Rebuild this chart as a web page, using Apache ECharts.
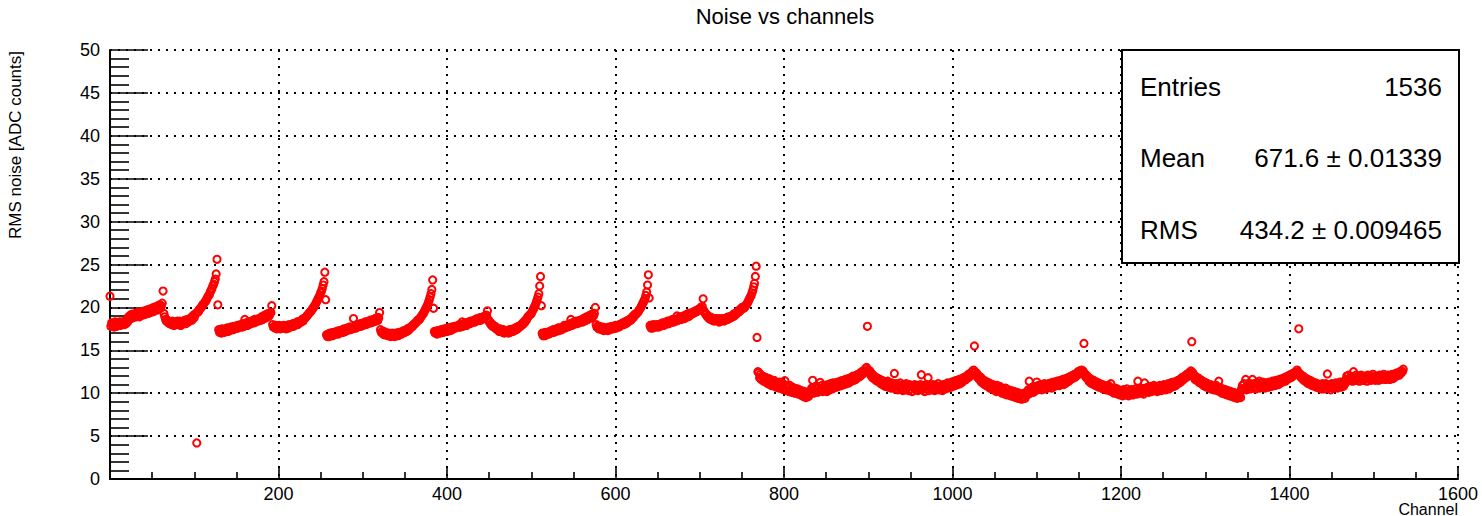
<!DOCTYPE html>
<html>
<head>
<meta charset="utf-8">
<title>Noise vs channels</title>
<script src="https://cdn.jsdelivr.net/npm/echarts@6/dist/echarts.min.js"></script>
<style>
  html, body { margin: 0; padding: 0; background: #fff; }
  #chart { width: 1482px; height: 516px; }
</style>
</head>
<body>
<div id="chart"></div>
<script>
// RMS noise per channel [ADC counts], one array per 128-channel block
const noise_0000_0127 = [
  21.3, 17.8, 18.2, 17.9, 18.1, 17.7, 18.3, 18.0, 17.8, 18.2, 18.0, 18.3, 17.9, 18.1, 18.3, 18.0,
  18.3, 18.0, 18.4, 18.1, 18.5, 18.3, 18.9, 18.7, 19.1, 18.7, 19.2, 18.8, 19.1, 18.9, 19.3, 18.9,
  19.4, 19.0, 19.3, 18.9, 19.4, 19.1, 19.5, 19.1, 19.4, 19.6, 19.2, 19.5, 19.7, 19.3, 19.6, 19.8,
  19.4, 19.7, 19.9, 19.5, 20.0, 19.6, 19.9, 20.1, 19.7, 20.2, 19.8, 20.3, 19.9, 20.2, 20.5, 21.9,
  19.3, 18.9, 18.6, 18.4, 18.5, 18.2, 18.4, 18.1, 18.3, 18.0, 18.4, 18.1, 17.9, 18.3, 18.0, 18.2,
  18.4, 18.0, 18.2, 18.4, 17.9, 18.3, 18.1, 18.4, 18.2, 18.5, 18.1, 18.4, 18.6, 18.3, 18.6, 18.5,
  18.8, 18.5, 18.9, 19.1, 18.8, 19.2, 19.3, 4.2, 19.5, 19.5, 19.8, 19.8, 20.0, 20.1, 20.3, 20.4,
  20.5, 20.7, 20.8, 21.0, 21.2, 21.4, 21.5, 21.8, 22.0, 22.2, 22.5, 22.7, 23.0, 23.3, 23.9, 25.6
];
const noise_0128_0255 = [
  20.3, 17.4, 17.1, 17.3, 17.0, 17.5, 17.2, 17.4, 17.1, 17.5, 17.3, 17.6, 17.2, 17.5, 17.3, 17.7,
  17.4, 17.7, 17.4, 17.8, 17.5, 17.7, 17.6, 17.9, 17.6, 17.9, 17.7, 18.0, 17.8, 17.7, 18.1, 17.8,
  18.6, 17.9, 18.2, 17.9, 18.3, 18.0, 18.3, 18.1, 18.4, 18.2, 18.5, 18.2, 18.6, 18.3, 18.6, 18.5,
  18.4, 18.7, 18.6, 18.5, 18.9, 18.6, 19.0, 18.7, 19.1, 18.8, 19.2, 18.9, 19.3, 19.0, 19.3, 19.4,
  20.2, 18.0, 17.7, 17.8, 17.6, 17.9, 17.5, 17.8, 17.6, 17.9, 17.5, 17.8, 17.6, 17.7, 17.9, 17.6,
  17.8, 17.5, 17.9, 17.7, 17.6, 18.0, 17.7, 17.9, 17.8, 18.1, 17.8, 18.1, 18.0, 18.1, 18.3, 18.0,
  18.3, 18.2, 18.4, 18.3, 18.6, 18.4, 18.7, 18.7, 18.8, 18.9, 19.1, 19.1, 19.3, 19.4, 19.5, 19.6,
  19.8, 19.9, 20.1, 20.2, 20.4, 20.6, 20.8, 21.0, 21.2, 21.4, 21.7, 21.9, 22.2, 22.6, 23.0, 24.1
];
const noise_0256_0383 = [
  20.9, 16.8, 16.6, 16.9, 16.6, 17.0, 16.7, 17.0, 16.7, 17.1, 16.8, 17.1, 16.9, 17.2, 17.0, 16.9,
  17.3, 17.0, 17.3, 17.1, 17.4, 17.1, 17.5, 17.2, 17.5, 17.3, 17.6, 17.4, 17.7, 17.4, 17.7, 17.6,
  17.5, 18.7, 17.6, 17.9, 17.6, 17.9, 17.7, 18.0, 17.8, 18.1, 17.8, 18.1, 17.9, 18.2, 18.0, 18.3,
  18.0, 18.3, 18.1, 18.4, 18.2, 18.5, 18.2, 18.5, 18.3, 18.6, 18.4, 18.7, 18.4, 18.8, 18.5, 18.8,
  19.4, 17.4, 17.1, 17.2, 16.9, 17.2, 16.8, 17.1, 16.8, 16.9, 16.7, 17.0, 16.8, 16.6, 16.9, 17.0,
  16.7, 16.9, 16.6, 17.0, 16.8, 16.9, 16.7, 17.1, 16.8, 17.1, 16.9, 17.2, 17.0, 17.3, 17.1, 17.3,
  17.2, 17.5, 17.3, 17.6, 17.5, 17.7, 17.7, 17.9, 17.9, 18.1, 18.1, 18.2, 18.3, 18.5, 18.5, 18.6,
  18.7, 18.9, 19.0, 19.2, 19.3, 19.5, 19.7, 19.9, 20.1, 20.3, 20.6, 20.9, 21.2, 21.6, 22.1, 23.2
];
const noise_0384_0511 = [
  19.9, 17.2, 17.0, 17.2, 16.9, 17.3, 17.0, 17.3, 17.0, 17.4, 17.1, 17.4, 17.1, 17.5, 17.2, 17.5,
  17.2, 17.6, 17.3, 17.6, 17.3, 17.7, 17.4, 17.7, 17.6, 17.8, 17.6, 17.8, 17.7, 17.9, 17.7, 18.0,
  17.7, 18.0, 18.3, 17.8, 18.1, 17.9, 18.2, 17.9, 18.2, 18.1, 18.3, 18.1, 18.4, 18.2, 18.4, 18.3,
  18.5, 18.3, 18.6, 18.4, 18.7, 18.5, 18.6, 18.8, 18.5, 18.8, 18.7, 18.9, 18.7, 19.0, 18.9, 19.1,
  19.6, 18.6, 18.3, 18.3, 18.0, 18.1, 17.8, 17.9, 17.7, 17.8, 17.5, 17.6, 17.4, 17.5, 17.2, 17.5,
  17.2, 17.3, 17.1, 17.4, 17.0, 17.3, 17.2, 17.1, 17.3, 17.0, 17.4, 17.1, 17.4, 17.3, 17.2, 17.5,
  17.3, 17.6, 17.4, 17.7, 17.5, 17.8, 17.7, 17.9, 17.9, 18.1, 18.0, 18.3, 18.2, 18.5, 18.5, 18.7,
  18.9, 19.0, 19.1, 19.2, 19.3, 19.5, 19.7, 19.9, 20.1, 20.3, 20.6, 20.9, 21.2, 21.6, 22.5, 23.6
];
const noise_0512_0639 = [
  20.2, 17.0, 16.7, 17.0, 16.7, 17.1, 16.8, 17.1, 17.0, 16.9, 17.2, 17.0, 17.3, 17.1, 17.4, 17.1,
  17.4, 17.2, 17.5, 17.3, 17.6, 17.3, 17.6, 17.5, 17.4, 17.7, 17.6, 17.9, 17.6, 17.9, 17.8, 17.7,
  18.0, 17.8, 18.1, 18.6, 17.9, 18.2, 18.0, 18.3, 18.1, 18.4, 18.1, 18.4, 18.3, 18.2, 18.5, 18.4,
  18.5, 18.3, 18.7, 18.4, 18.8, 18.5, 18.9, 18.6, 19.0, 18.7, 19.1, 18.8, 19.2, 19.1, 19.0, 19.3,
  20.0, 18.0, 17.7, 17.8, 17.5, 17.8, 17.5, 17.6, 17.4, 17.7, 17.3, 17.6, 17.5, 17.4, 17.6, 17.3,
  17.7, 17.4, 17.7, 17.5, 17.8, 17.5, 17.8, 17.6, 17.9, 17.6, 17.9, 17.8, 17.7, 18.0, 17.9, 18.1,
  18.0, 18.2, 18.0, 18.3, 18.1, 18.4, 18.2, 18.5, 18.4, 18.6, 18.5, 18.8, 18.7, 19.0, 18.9, 19.2,
  19.2, 19.3, 19.4, 19.5, 19.7, 19.8, 20.0, 20.2, 20.4, 20.6, 20.8, 21.0, 21.4, 21.8, 22.6, 23.8
];
const noise_0640_0767 = [
  21.1, 17.9, 17.6, 17.9, 17.6, 18.0, 17.7, 17.9, 17.7, 18.0, 17.8, 17.7, 18.0, 17.8, 18.1, 17.9,
  18.2, 17.9, 18.2, 18.0, 18.3, 18.1, 18.4, 18.1, 18.4, 18.2, 18.5, 18.3, 18.6, 18.3, 18.6, 18.5,
  18.4, 19.0, 18.5, 18.8, 18.6, 18.9, 18.6, 18.9, 18.8, 19.0, 18.7, 19.1, 18.9, 19.2, 18.9, 19.3,
  19.0, 19.3, 19.2, 19.4, 19.3, 19.5, 19.4, 19.6, 19.5, 19.7, 19.6, 19.8, 19.7, 20.0, 19.8, 20.1,
  21.0, 19.6, 19.4, 19.2, 19.2, 18.9, 19.0, 18.7, 18.9, 18.6, 18.8, 18.5, 18.7, 18.4, 18.7, 18.5,
  18.7, 18.4, 18.6, 18.3, 18.7, 18.4, 18.6, 18.5, 18.7, 18.4, 18.7, 18.6, 18.8, 18.6, 18.9, 18.7,
  18.9, 18.8, 19.0, 18.9, 19.2, 19.0, 19.3, 19.2, 19.4, 19.4, 19.6, 19.5, 19.8, 19.7, 20.0, 19.9,
  19.9, 20.0, 20.1, 20.3, 20.4, 20.6, 20.8, 21.0, 21.2, 21.4, 21.7, 22.0, 22.4, 22.8, 23.6, 24.8
];
const noise_0768_0895 = [
  16.5, 12.5, 12.4, 11.8, 12.2, 11.6, 12.0, 11.9, 11.4, 11.9, 11.3, 11.8, 11.5, 11.1, 11.7, 11.2,
  11.6, 10.9, 11.4, 11.0, 11.5, 10.8, 11.3, 10.7, 11.2, 11.0, 10.6, 11.3, 10.7, 10.9, 10.5, 11.1,
  10.4, 11.45, 10.9, 10.3, 10.8, 10.6, 10.2, 10.9, 10.4, 10.1, 10.7, 10.3, 10.6, 10.0, 10.5, 10.2,
  10.5, 9.9, 10.4, 10.1, 9.8, 10.3, 10.0, 9.6, 10.2, 9.8, 9.5, 10.1, 9.7, 9.6, 10.0, 10.3,
  10.1, 10.6, 11.5, 10.0, 10.7, 10.2, 10.5, 10.8, 10.1, 10.6, 10.3, 11.25, 10.4, 10.9, 10.2, 10.7,
  10.3, 10.9, 10.5, 10.2, 11.0, 10.6, 10.4, 11.1, 10.7, 10.5, 11.2, 10.6, 10.9, 11.2, 10.7, 11.0,
  11.3, 10.8, 11.1, 11.4, 10.9, 11.2, 11.5, 11.0, 11.3, 11.6, 11.1, 11.4, 11.7, 11.2, 11.5, 11.8,
  11.4, 11.7, 12.0, 11.5, 11.9, 11.6, 12.1, 11.8, 12.2, 11.9, 12.3, 12.0, 12.5, 12.2, 12.6, 12.4
];
const noise_0896_1023 = [
  12.6, 12.9, 13.0, 17.8, 12.7, 12.4, 12.6, 12.1, 12.3, 11.8, 12.1, 11.7, 11.9, 11.5, 11.8, 11.4,
  11.7, 11.3, 11.6, 11.1, 11.5, 11.0, 11.4, 11.2, 10.8, 11.3, 10.9, 11.4, 10.7, 11.2, 10.9, 10.6,
  11.2, 10.7, 11.0, 12.3, 10.5, 11.1, 10.8, 10.4, 11.0, 10.6, 11.2, 10.5, 10.9, 10.3, 11.0, 10.7,
  10.4, 11.1, 10.6, 10.8, 10.3, 11.0, 10.5, 10.9, 10.2, 10.8, 10.6, 11.0, 10.4, 10.7, 10.9, 10.3,
  10.8, 10.5, 11.0, 12.15, 10.4, 10.9, 10.6, 10.2, 10.8, 11.0, 10.5, 11.8, 10.3, 10.9, 10.6, 10.8,
  10.4, 11.0, 10.6, 10.3, 10.9, 10.7, 10.5, 11.1, 10.4, 10.8, 10.6, 10.9, 10.3, 11.0, 10.7, 10.5,
  11.0, 10.7, 11.2, 10.6, 10.9, 11.1, 10.7, 11.3, 10.8, 11.0, 11.4, 10.9, 11.2, 11.5, 11.0, 11.3,
  11.6, 11.1, 11.4, 11.7, 11.3, 11.8, 11.5, 11.9, 11.6, 12.0, 11.8, 12.2, 11.9, 12.3, 12.1, 12.5
];
const noise_1024_1151 = [
  12.4, 12.7, 15.5, 12.5, 12.1, 12.3, 11.8, 12.0, 11.6, 11.9, 11.3, 11.7, 11.2, 11.5, 11.0, 11.4,
  10.9, 11.3, 10.8, 11.2, 10.6, 11.1, 10.9, 10.5, 11.0, 10.4, 10.8, 10.6, 10.2, 10.9, 10.5, 10.3,
  10.8, 10.2, 10.6, 10.0, 10.5, 10.3, 9.9, 10.6, 10.1, 9.8, 10.4, 10.0, 10.2, 9.7, 10.3, 9.9,
  9.6, 10.2, 9.8, 9.5, 10.1, 9.7, 9.4, 10.0, 9.6, 9.9, 9.3, 9.8, 9.5, 10.0, 9.4, 9.7,
  10.1, 9.8, 10.4, 11.4, 10.0, 10.5, 10.2, 10.7, 10.1, 10.6, 10.3, 10.8, 11.3, 10.4, 10.9, 10.5,
  10.7, 11.0, 10.4, 10.9, 10.6, 11.1, 10.5, 10.8, 11.0, 10.6, 11.1, 10.7, 10.9, 11.2, 10.6, 11.0,
  11.3, 10.8, 11.1, 10.9, 11.4, 11.0, 11.2, 10.9, 11.5, 11.1, 11.3, 11.6, 11.0, 11.4, 11.7, 11.2,
  11.5, 11.8, 11.4, 11.9, 11.6, 12.0, 11.7, 12.1, 11.8, 12.2, 11.9, 12.3, 12.1, 12.5, 12.3, 12.6
];
const noise_1152_1279 = [
  12.4, 12.7, 12.5, 12.6, 15.8, 12.3, 11.9, 12.1, 11.7, 11.9, 11.4, 11.7, 11.2, 11.6, 11.1, 11.5,
  11.0, 11.4, 10.9, 11.3, 10.8, 11.2, 10.7, 11.1, 10.9, 10.6, 11.0, 10.5, 10.9, 10.7, 10.4, 10.8,
  10.5, 10.9, 10.3, 10.7, 11.1, 10.2, 10.6, 10.4, 10.0, 10.6, 10.2, 10.5, 9.9, 10.4, 10.1, 9.8,
  10.3, 10.0, 9.7, 10.4, 9.9, 10.2, 9.8, 10.5, 10.0, 9.7, 10.3, 9.9, 10.4, 10.1, 9.8, 10.3,
  10.0, 10.5, 10.2, 9.9, 11.4, 10.4, 10.1, 10.6, 10.0, 10.5, 10.3, 9.9, 11.2, 10.6, 10.2, 10.4,
  10.7, 10.1, 10.5, 10.8, 10.2, 10.6, 10.4, 10.9, 10.3, 10.7, 10.5, 10.2, 10.8, 10.4, 10.9, 10.6,
  10.3, 10.8, 10.5, 11.0, 10.6, 10.4, 10.9, 10.7, 11.1, 10.5, 10.9, 11.2, 10.7, 11.0, 11.3, 10.8,
  11.2, 10.9, 11.4, 11.1, 11.5, 11.2, 11.6, 11.3, 11.8, 11.5, 11.9, 11.7, 12.0, 11.8, 12.2, 12.1
];
const noise_1280_1407 = [
  12.0, 12.4, 12.2, 12.6, 16.0, 12.4, 11.9, 12.1, 11.6, 11.9, 11.5, 11.8, 11.3, 11.7, 11.2, 11.5,
  11.1, 11.4, 10.9, 11.3, 10.8, 11.2, 10.7, 11.1, 10.9, 10.6, 11.0, 10.5, 10.9, 10.7, 10.4, 10.8,
  10.5, 10.9, 10.3, 10.7, 11.4, 10.2, 10.6, 10.4, 10.0, 10.5, 10.2, 9.9, 10.4, 10.1, 9.8, 10.3,
  10.0, 9.7, 10.2, 9.9, 9.6, 10.1, 9.8, 9.5, 10.0, 9.7, 9.4, 9.9, 9.6, 9.8, 9.5, 10.5,
  10.9, 10.5, 11.1, 10.6, 11.6, 10.4, 10.9, 10.7, 11.2, 10.5, 10.8, 11.0, 11.6, 10.6, 11.1, 10.8,
  10.5, 11.2, 10.7, 11.0, 11.4, 10.6, 11.1, 10.8, 11.3, 10.7, 11.0, 10.6, 11.2, 10.9, 11.1, 10.7,
  11.3, 10.9, 11.1, 10.8, 11.4, 11.0, 11.2, 10.9, 11.5, 11.1, 11.3, 11.0, 11.6, 11.2, 11.4, 11.7,
  11.3, 11.6, 11.8, 11.4, 11.9, 11.6, 12.0, 11.7, 12.1, 11.8, 12.2, 11.9, 12.3, 12.1, 12.4, 12.2
];
const noise_1408_1535 = [
  12.4, 12.7, 12.5, 17.5, 12.3, 11.9, 12.1, 11.7, 12.0, 11.5, 11.8, 11.4, 11.7, 11.2, 11.6, 11.1,
  11.5, 11.0, 11.4, 10.9, 11.3, 11.1, 10.8, 11.2, 10.7, 11.1, 10.9, 10.6, 11.0, 10.8, 10.5, 11.1,
  10.7, 10.9, 10.5, 11.1, 10.8, 12.25, 10.6, 11.0, 10.7, 10.4, 11.1, 10.8, 10.6, 11.0, 10.7, 11.2,
  10.8, 10.6, 11.1, 10.9, 11.3, 10.7, 11.0, 11.2, 10.8, 11.4, 11.1, 11.6, 12.0, 11.5, 12.1, 11.7,
  11.5, 12.0, 11.8, 11.4, 12.5, 11.7, 11.5, 12.1, 11.8, 11.6, 12.0, 11.4, 11.9, 12.1, 11.6, 11.8,
  11.5, 12.0, 11.7, 11.9, 11.4, 12.1, 11.8, 11.6, 12.0, 11.5, 11.9, 12.2, 11.6, 11.8, 11.5, 12.0,
  11.7, 11.9, 11.5, 12.1, 11.8, 11.6, 12.0, 11.7, 12.2, 11.8, 11.6, 12.0, 11.7, 12.1, 11.9, 11.6,
  12.0, 11.8, 12.2, 11.7, 12.1, 11.9, 12.3, 12.0, 12.2, 12.4, 12.1, 12.5, 12.3, 12.6, 12.5, 12.8
];

// Axis tick values
const xTicks = [0, 200, 400, 600, 800, 1000, 1200, 1400, 1600];
const yTicks = [0, 5, 10, 15, 20, 25, 30, 35, 40, 45, 50];

// Statistics panel rows
const statNames = ['Entries', 'Mean', 'RMS'];
const statValues = ['1536', '671.6 \u00b1 0.01339', '434.2 \u00b1 0.009465'];

const noise = [].concat(
  noise_0000_0127, noise_0128_0255, noise_0256_0383, noise_0384_0511,
  noise_0512_0639, noise_0640_0767, noise_0768_0895, noise_0896_1023,
  noise_1024_1151, noise_1152_1279, noise_1280_1407, noise_1408_1535
);
const points = noise.map((v, ch) => [ch, v]);

const FONT = '"Liberation Sans", Arial, Helvetica, sans-serif';
const dotted = { color: '#000', width: 2, type: [2, 6] };

const chart = echarts.init(document.getElementById('chart'), null, { renderer: 'svg' });

const statGraphics = [];
statGraphics.push({
  type: 'rect', z: 100,
  shape: { x: 1122, y: 50, width: 337, height: 213 },
  style: { fill: '#fff', stroke: '#000', lineWidth: 2 }
});
const rowY = [87, 158, 230];
statNames.forEach((name, i) => {
  statGraphics.push({
    type: 'text', z: 101, x: 1140, y: rowY[i],
    style: { text: name, fontFamily: FONT, fontSize: 26, fill: '#000', align: 'left', verticalAlign: 'middle' }
  });
  statGraphics.push({
    type: 'text', z: 101, x: 1442, y: rowY[i],
    style: { text: statValues[i], fontFamily: FONT, fontSize: 26, fill: '#000', align: 'right', verticalAlign: 'middle' }
  });
});

chart.setOption({
  animation: false,
  backgroundColor: '#fff',
  textStyle: { fontFamily: FONT },
  grid: { left: 110, right: 24, top: 50, bottom: 37, containLabel: false },
  xAxis: {
    type: 'value',
    min: xTicks[0], max: xTicks[xTicks.length - 1], interval: xTicks[1] - xTicks[0],
    axisLine: { show: true, onZero: false, lineStyle: { color: '#000', width: 2 } },
    axisTick: { show: true, inside: true, length: 13, lineStyle: { color: '#000', width: 1.6 } },
    minorTick: { show: true, splitNumber: 4, length: 7, lineStyle: { color: '#000', width: 1.6 } },
    axisLabel: {
      color: '#000', fontSize: 18, fontFamily: FONT, margin: 6,
      formatter: v => (v === 0 ? '' : String(v))
    },
    splitLine: { show: true, lineStyle: dotted }
  },
  yAxis: {
    type: 'value',
    min: yTicks[0], max: yTicks[yTicks.length - 1], interval: yTicks[1] - yTicks[0],
    axisLine: { show: true, onZero: false, lineStyle: { color: '#000', width: 2 } },
    axisTick: { show: true, inside: true, length: 38, lineStyle: { color: '#000', width: 1.6 } },
    minorTick: { show: true, splitNumber: 5, length: 19, lineStyle: { color: '#000', width: 1.6 } },
    axisLabel: { color: '#000', fontSize: 18, fontFamily: FONT, margin: 10 },
    splitLine: { show: true, lineStyle: dotted }
  },
  series: [{
    type: 'scatter',
    data: points,
    symbol: 'circle',
    symbolSize: 7.2,
    silent: true,
    itemStyle: { color: 'rgba(0,0,0,0)', borderColor: '#ff0000', borderWidth: 2, opacity: 1 },
    emphasis: { disabled: true }
  }],
  graphic: [
    {
      type: 'text', x: 785, y: 16,
      style: { text: 'Noise vs channels', fontFamily: FONT, fontSize: 22, fill: '#000', align: 'center', verticalAlign: 'middle' }
    },
    {
      type: 'text', x: 15, y: 145, rotation: Math.PI / 2,
      style: { text: 'RMS noise [ADC counts]', fontFamily: FONT, fontSize: 17, fill: '#000', align: 'center', verticalAlign: 'middle' }
    },
    {
      type: 'text', x: 1458, y: 509,
      style: { text: 'Channel', fontFamily: FONT, fontSize: 16, fill: '#000', align: 'right', verticalAlign: 'middle' }
    }
  ].concat(statGraphics)
});
</script>
</body>
</html>
